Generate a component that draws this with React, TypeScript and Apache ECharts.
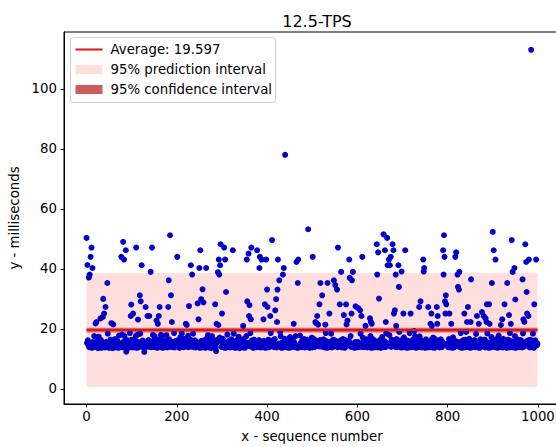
import React, { useEffect, useRef } from "react";
import * as echarts from "echarts";

const TITLE = "12.5-TPS";
const X_NAME = "x - sequence number";
const Y_NAME = "y - milliseconds";
const AVERAGE = 19.597;
const AVERAGE_LABEL = "Average: 19.597";
const PRED_LABEL = "95% prediction interval";
const CONF_LABEL = "95% confidence interval";
const PRED_LO = 0.6;
const PRED_HI = 38.6;
const CONF_LO = 18.8;
const CONF_HI = 20.4;
const X_START = 0;
const X_END = 999;
const X_MIN = -49.95;
const X_MAX = 1048.95;
const Y_MIN = -5.03;
const Y_MAX = 118.94;
const X_TICKS = [0, 200, 400, 600, 800, 1000];
const Y_TICKS = [0, 20, 40, 60, 80, 100];

// dense band of latencies, x = 0..199
const band0 = [
  14.1,15.3,13.8,16.2,14.6,15.0,13.9,17.1,14.4,15.8,14.0,16.5,13.7,14.9,15.6,14.2,13.9,17.6,15.1,14.3,
  13.8,15.5,14.7,16.0,14.1,13.6,15.2,17.4,14.5,13.9,15.9,14.2,16.3,13.7,14.8,15.4,14.0,18.2,13.9,15.0,
  14.6,13.8,16.1,14.3,15.7,13.9,14.4,18.4,15.2,14.0,13.7,15.5,14.8,16.4,13.8,14.1,15.9,14.5,13.6,17.3,
  15.1,14.2,13.9,16.6,14.7,15.3,13.8,14.4,16.0,15.6,14.1,13.7,17.8,14.9,15.2,13.9,14.6,16.3,14.0,15.8,
  13.9,14.5,15.7,14.1,17.6,13.8,15.0,14.3,12.4,15.9,14.6,16.2,13.7,14.8,15.3,14.0,18.6,13.9,15.6,14.2,
  16.4,14.0,13.8,15.1,14.7,16.0,13.9,15.5,14.3,17.6,14.1,13.7,15.8,14.9,16.5,13.8,14.4,15.2,14.0,18.4,
  14.3,15.6,13.9,14.8,16.1,14.2,13.7,15.3,12.3,14.5,13.9,16.6,14.0,15.0,14.7,13.8,15.9,16.3,14.1,13.6,
  15.4,14.6,16.7,13.9,14.2,15.8,14.0,13.8,16.0,15.1,14.4,17.5,13.9,14.9,15.6,14.1,16.4,13.7,14.8,15.2,
  13.8,16.2,14.3,15.0,13.9,14.7,17.6,14.0,15.5,13.7,14.5,15.9,14.2,16.1,13.9,15.3,14.6,17.9,14.0,13.8,
  15.7,14.1,13.9,16.5,14.8,15.2,14.0,13.6,15.8,16.3,14.4,13.9,15.0,14.6,18.6,13.8,14.2,15.6,16.0,14.3,
];
// x = 200..399
const band1 = [
  14.4,13.9,15.8,16.3,14.0,15.1,13.7,14.6,17.3,15.5,14.2,13.8,16.0,14.9,15.4,13.9,14.1,16.7,15.0,14.5,
  13.7,16.1,14.8,15.3,14.0,17.7,13.9,14.3,15.9,14.6,16.4,13.8,15.2,14.1,13.6,15.7,18.4,14.4,13.9,15.0,
  16.2,14.5,13.8,15.6,14.2,14.9,16.6,13.9,15.1,14.0,17.2,13.7,14.7,15.8,14.3,16.0,13.8,15.4,14.6,13.9,
  14.8,15.9,14.1,13.7,16.5,14.4,15.2,13.9,14.0,17.9,15.6,14.2,13.8,16.3,14.9,15.0,13.6,14.5,17.6,14.1,
  15.3,13.8,14.6,16.1,14.0,15.7,13.9,12.6,14.8,15.5,16.4,14.3,13.7,15.1,14.2,17.1,13.9,14.7,15.9,14.0,
  13.9,15.2,16.7,14.1,13.8,15.6,14.5,16.2,13.7,14.9,15.4,14.0,18.1,13.9,14.4,15.8,16.0,14.2,13.8,15.1,
  14.7,16.5,13.9,14.3,15.0,14.0,18.4,13.8,15.5,14.6,13.7,15.9,14.1,16.3,14.8,13.9,15.3,17.4,14.2,13.6,
  15.6,14.4,13.9,16.0,14.9,15.2,13.8,14.5,16.6,14.0,15.7,13.7,14.3,15.1,17.6,14.1,13.9,15.4,14.6,16.2,
  13.8,15.0,14.2,18.6,13.9,14.8,16.1,14.0,15.5,13.7,14.6,16.4,15.3,13.8,14.1,15.8,14.4,13.9,16.7,15.2,
  14.5,13.9,16.3,14.1,15.7,14.0,13.8,15.1,17.6,14.7,15.4,13.9,14.3,16.0,14.8,15.6,13.7,14.2,16.5,14.9,
];
// x = 400..599
const band2 = [
  15.0,14.3,13.8,16.4,14.7,15.9,14.0,13.9,18.6,15.2,14.5,13.7,16.1,14.8,15.5,14.1,13.9,16.6,15.3,14.2,
  14.6,13.8,15.7,14.0,18.4,14.4,15.1,13.9,14.2,15.8,17.5,14.0,13.7,15.4,14.9,16.2,13.8,14.5,15.0,16.7,
  13.9,16.0,14.6,15.3,13.8,14.1,16.5,14.8,15.6,13.7,14.3,17.3,15.1,14.0,13.9,15.9,14.7,16.3,14.2,13.8,
  15.5,14.9,13.9,17.6,14.4,15.0,14.1,13.7,16.2,15.7,14.0,13.8,14.6,17.8,15.2,14.3,13.9,15.8,16.1,14.5,
  14.0,15.4,16.6,13.8,14.7,15.1,13.9,14.2,15.9,16.4,14.8,12.8,15.6,14.1,13.7,16.0,14.9,15.3,14.4,17.1,
  13.8,14.5,15.2,16.7,14.0,13.9,15.8,14.3,16.1,14.6,15.0,13.7,14.9,17.4,15.5,14.2,13.8,16.3,14.7,15.1,
  16.0,14.1,13.9,15.6,14.8,16.5,14.0,15.3,13.8,14.4,18.6,15.9,14.2,13.7,16.2,14.9,15.4,13.9,14.6,15.7,
  14.3,15.8,18.4,14.0,13.8,15.1,14.7,16.4,13.9,15.5,14.2,13.7,16.0,15.2,14.5,17.7,13.9,14.8,15.6,14.1,
  15.2,13.9,14.4,16.2,15.7,14.0,13.8,15.0,16.6,14.3,14.9,15.8,13.7,16.3,14.1,15.4,17.2,14.6,13.9,15.1,
  14.8,16.1,13.8,14.5,15.3,17.6,14.0,13.9,15.9,14.2,16.4,14.7,15.0,13.7,14.3,15.6,16.0,14.1,13.8,15.5,
];
// x = 600..799
const band3 = [
  14.2,15.6,16.3,13.9,14.8,15.1,13.7,18.4,14.4,15.4,14.0,13.8,17.1,15.8,14.6,13.9,16.0,14.3,15.2,14.9,
  16.5,14.1,13.8,15.7,14.5,16.2,13.9,14.0,15.3,17.6,14.7,13.7,15.9,14.2,16.6,15.0,13.8,14.4,16.1,15.5,
  13.9,14.8,15.4,14.0,16.7,13.8,15.1,14.6,12.5,15.8,16.3,14.1,13.7,15.2,14.9,17.3,14.3,13.9,15.6,14.5,
  15.9,14.2,13.9,16.0,14.7,15.3,17.6,13.8,14.4,15.0,14.1,17.9,13.7,14.9,15.7,14.0,16.4,15.1,13.9,14.6,
  14.3,16.1,15.5,13.8,14.0,15.8,14.5,16.6,13.9,14.8,15.2,13.7,18.4,14.2,15.4,14.1,13.8,16.2,15.0,14.7,
  13.8,15.1,14.6,17.2,14.0,13.9,15.7,16.3,14.4,15.0,13.7,14.9,16.0,15.5,14.1,13.8,18.6,14.5,15.9,14.2,
  15.6,14.0,13.9,16.4,15.2,14.7,13.8,15.0,17.6,14.3,13.7,15.4,14.8,16.1,14.0,15.7,13.9,14.6,17.5,15.3,
  14.9,16.2,14.1,13.8,15.5,14.4,16.7,13.9,15.1,14.0,13.7,15.8,16.5,14.2,14.8,15.3,13.8,16.0,14.5,15.0,
  13.9,14.6,15.9,16.3,14.0,15.2,13.8,14.7,17.1,15.6,14.1,13.7,16.6,14.9,15.4,14.3,13.9,15.0,18.4,14.4,
  16.1,14.8,13.8,15.3,14.2,16.5,14.0,13.9,15.7,14.6,15.1,13.7,17.4,14.1,15.9,14.5,13.8,16.2,14.9,15.0,
];
// x = 800..999
const band4 = [
  14.5,13.9,15.2,16.6,14.1,15.7,13.8,14.8,16.3,15.0,14.4,13.7,17.2,15.5,14.0,13.9,16.0,14.7,15.3,14.2,
  15.8,14.3,13.8,18.4,14.6,15.1,14.0,13.9,15.6,18.6,14.2,13.7,15.4,14.9,16.2,14.1,13.8,15.9,14.5,16.4,
  13.9,15.0,14.7,16.1,14.0,13.8,15.5,14.4,16.7,15.2,13.7,14.8,17.6,14.1,15.7,13.9,14.3,16.0,15.1,14.6,
  16.3,14.2,13.9,15.4,14.9,17.6,14.0,13.8,15.0,14.5,15.9,13.7,14.6,16.5,15.2,14.1,12.7,15.6,14.8,16.0,
  14.0,15.3,16.4,13.8,14.4,15.8,14.1,16.2,13.9,14.7,15.1,13.7,18.4,14.3,15.5,14.0,13.8,17.3,14.9,15.2,
  13.8,14.6,15.7,16.0,14.2,13.9,15.4,14.8,16.6,14.0,13.7,15.0,14.5,17.8,15.6,14.1,13.9,16.3,14.7,15.9,
  15.1,14.0,13.8,16.7,15.5,14.3,13.9,14.9,16.1,15.2,14.6,13.7,15.8,14.2,16.4,14.0,15.3,13.8,18.6,14.5,
  14.8,15.9,14.1,13.9,16.2,14.4,15.6,13.8,14.0,17.6,15.0,13.7,14.7,15.4,16.5,14.2,13.9,15.1,14.6,16.0,
  13.9,14.5,16.3,15.2,14.0,13.8,15.7,14.9,16.6,14.1,13.7,15.5,17.1,14.4,15.0,14.8,13.9,16.1,15.3,14.2,
  15.6,14.0,13.8,16.4,14.7,15.1,14.3,13.9,15.8,18.4,14.5,13.7,15.2,14.1,16.2,14.8,13.8,15.4,14.6,15.0,
];

// slow requests above the band: [sequence number, milliseconds]
const outliers: [number, number][] = [
  [0,50.3],[2,41.3],[5,37.1],[7,38.1],[9,44],[11,47.1],[13,40.3],[20,21.8],[22,22.3],[31,23.5],
  [36,24],[37,30],[39,25.1],[42,27.3],[46,35.3],[55,21.9],[59,21.5],[77,44],[79,18.1],[81,49],
  [83,43.1],[87,46.2],[98,24.3],[99,28.1],[103,25.1],[110,47.1],[113,18.1],[114,23.1],[118,31.2],[120,29.2],
  [122,41.2],[131,27.3],[135,24.3],[139,24.3],[142,39],[145,47.1],[147,18],[155,22.8],[158,21.7],[160,24.3],
  [162,27.3],[165,18],[181,27.3],[182,36.2],[185,51.2],[187,31.2],[189,22.3],
  [201,44],[211,18.5],[220,21.7],[222,21.3],[227,27.6],[231,41.2],[234,38.1],[246,28.5],[248,23.2],
  [250,40.3],[252,46.2],[254,29.9],[257,33.2],[259,28.8],[265,40.3],[285,28.2],[288,21.7],[291,38.9],[292,21.3],
  [293,43.1],[294,38.1],[296,41.2],[297,48.2],[300,25.1],[305,47.1],[307,43.1],[309,32.3],[324,46.2],[347,21],
  [355,43.1],[356,29.2],[359,45.1],[360,24.3],[361,27.9],[364,23.2],[365,47.1],[378,46.2],[383,40.3],[384,44],
  [388,43.1],[392,23.2],[395,28.2],[398,43.1],
  [400,33.1],[401,27.3],[407,24.3],[411,49.6],[418,26.2],[420,29.9],[422,22.3],[423,33.1],[424,43.1],[427,36.2],
  [429,19],[435,38.1],[437,40.3],[440,78],[459,21.7],[465,42.3],[468,35.3],[469,43.1],[491,53.2],[501,44],
  [507,22.3],[509,21.9],[511,24.3],[513,21.4],[516,28.2],[518,35.3],[522,31.2],[529,21.4],[534,35.3],[538,25.1],
  [548,36.2],[551,34.6],[555,33.1],[557,47.1],[561,28.2],[564,39],[570,24.6],[575,28.2],[576,21.5],[578,22.8],
  [582,43.1],[583,37],[587,25.1],[588,36.2],[590,39],[596,27.5],
  [602,26.9],[606,26.2],[609,24.3],[611,44],[618,21],[628,23.5],[630,22.3],[632,21.7],[643,48.2],[644,38.1],
  [646,45.5],[648,30.1],[658,51.5],[661,46.2],[663,22.3],[664,18.5],[666,50.3],[667,41.2],[670,43.1],[672,41.2],
  [674,44],[678,48.2],[680,46.2],[681,25.1],[683,26.2],[685,38.1],[686,21],[691,41.2],[692,34],[693,19],
  [698,39.1],[702,25.1],[706,46.2],[718,25.1],[726,19.3],[737,27.3],[740,29.2],[746,43.1],[747,39.1],[748,40.3],
  [757,27.3],[762,21.7],[764,25.1],[765,21],[776,27.3],[777,21.7],[778,24.3],[790,46.2],[791,38.1],[792,51.2],
  [793,44],[794,29.2],[795,25.1],[796,31.2],[797,28.2],
  [804,25.1],[808,21.7],[817,44],[819,45.5],[822,38.1],[823,34],[825,33.1],[826,39],[837,25.1],[841,19],
  [843,22.3],[845,27.3],[851,22.3],[852,36.5],[863,18.3],[865,24.3],[869,21.7],[876,25.6],[880,24.3],[884,23.5],
  [886,22.3],[887,28.2],[888,18.5],[892,28.2],[893,21.7],[898,35.3],[900,52.3],[902,46.2],[906,43.1],[918,21.3],
  [921,23.2],[926,28.2],[932,35.3],[936,24.6],[940,21.7],[942,49.6],[944,39],[948,40.3],[950,29.8],[966,36.5],
  [967,18.5],[968,23.2],[970,22.3],[972,48.2],[974,42.3],[975,32.3],[976,25.1],[979,24.3],[980,43.1],[985,113],
  [992,28.2],[996,43.1],
];

const FONT = "DejaVu Sans";

export default function App() {
  const ref = useRef<HTMLDivElement>(null);

  useEffect(() => {
    if (!ref.current) return;
    const chart = echarts.init(ref.current, undefined, { renderer: "svg" });

    const yValues = [...band0, ...band1, ...band2, ...band3, ...band4].slice(0, X_END + 1);
    outliers.forEach(([x, v]) => {
      yValues[x] = v;
    });
    const points = yValues.map((v, i) => [i, v]);

    const bandRender = (fill: string) => (params: any, api: any) => {
      const p0 = api.coord([api.value(0), api.value(3)]);
      const p1 = api.coord([api.value(1), api.value(2)]);
      return {
        type: "rect",
        shape: { x: p0[0], y: p0[1], width: p1[0] - p0[0], height: p1[1] - p0[1] },
        style: { fill },
      };
    };

    const tickFont = { color: "#000", fontSize: 13.3, fontFamily: FONT };
    const plain = (v: number) => String(v);

    chart.setOption({
      animation: false,
      title: {
        text: TITLE,
        left: 312,
        top: 8,
        textAlign: "center",
        textStyle: { color: "#000", fontSize: 16, fontWeight: "normal", fontFamily: FONT },
      },
      grid: {
        left: 64,
        top: 32,
        width: 496,
        height: 372,
        show: true,
        borderColor: "#000",
        borderWidth: 1,
        containLabel: false,
        outerBoundsMode: "none",
      },
      xAxis: {
        type: "value",
        min: X_MIN,
        max: X_MAX,
        name: X_NAME,
        nameLocation: "middle",
        nameGap: 26,
        nameTextStyle: tickFont,
        axisLine: { show: true, onZero: false, lineStyle: { color: "#000", width: 1 } },
        axisTick: { show: true, inside: false, length: 3.5, customValues: X_TICKS, lineStyle: { color: "#000" } },
        axisLabel: { ...tickFont, margin: 6, customValues: X_TICKS, formatter: plain },
        splitLine: { show: false },
      },
      yAxis: {
        type: "value",
        min: Y_MIN,
        max: Y_MAX,
        name: Y_NAME,
        nameLocation: "middle",
        nameRotate: 90,
        nameGap: 33,
        nameTextStyle: tickFont,
        axisLine: { show: true, onZero: false, lineStyle: { color: "#000", width: 1 } },
        axisTick: { show: true, inside: false, length: 3.5, customValues: Y_TICKS, lineStyle: { color: "#000" } },
        axisLabel: { ...tickFont, margin: 7, customValues: Y_TICKS, formatter: plain },
        splitLine: { show: false },
      },
      series: [
        {
          type: "custom",
          name: PRED_LABEL,
          data: [[X_START, X_END, PRED_LO, PRED_HI]],
          encode: { x: [0, 1], y: [2, 3] },
          renderItem: bandRender("#ffdede"),
          silent: true,
          z: 1,
        },
        {
          type: "custom",
          name: CONF_LABEL,
          data: [[X_START, X_END, CONF_LO, CONF_HI]],
          encode: { x: [0, 1], y: [2, 3] },
          renderItem: bandRender("#d96464"),
          silent: true,
          z: 2,
        },
        {
          type: "scatter",
          data: points,
          symbol: "circle",
          symbolSize: 6,
          itemStyle: { color: "#0000c8", opacity: 1 },
          silent: true,
          z: 3,
        },
        {
          type: "line",
          name: AVERAGE_LABEL,
          data: [
            [X_START, AVERAGE],
            [X_END, AVERAGE],
          ],
          showSymbol: false,
          symbol: "none",
          lineStyle: { color: "#e01515", width: 2 },
          silent: true,
          z: 4,
        },
      ],
      graphic: [
        {
          type: "group",
          left: 70,
          top: 37,
          z: 100,
          children: [
            {
              type: "rect",
              shape: { x: 0, y: 0, width: 205, height: 65, r: 3 },
              style: { fill: "rgba(255,255,255,0.8)", stroke: "#d0d0d0", lineWidth: 1 },
            },
            {
              type: "line",
              shape: { x1: 5, y1: 12, x2: 32, y2: 12 },
              style: { stroke: "#e01515", lineWidth: 2 },
            },
            {
              type: "rect",
              shape: { x: 5, y: 27.5, width: 27, height: 9 },
              style: { fill: "#ffdede" },
            },
            {
              type: "rect",
              shape: { x: 5, y: 47.5, width: 27, height: 9 },
              style: { fill: "#cd5c5c" },
            },
            {
              type: "text",
              x: 40,
              y: 12,
              style: { text: AVERAGE_LABEL, fill: "#000", fontSize: 13.3, fontFamily: FONT, verticalAlign: "middle" },
            },
            {
              type: "text",
              x: 40,
              y: 32,
              style: { text: PRED_LABEL, fill: "#000", fontSize: 13.3, fontFamily: FONT, verticalAlign: "middle" },
            },
            {
              type: "text",
              x: 40,
              y: 52,
              style: { text: CONF_LABEL, fill: "#000", fontSize: 13.3, fontFamily: FONT, verticalAlign: "middle" },
            },
          ],
        },
      ],
    });

    return () => chart.dispose();
  }, []);

  return (
    <div
      ref={ref}
      style={{ position: "fixed", left: 0, top: 0, width: 556, height: 447, background: "#fff" }}
    />
  );
}
